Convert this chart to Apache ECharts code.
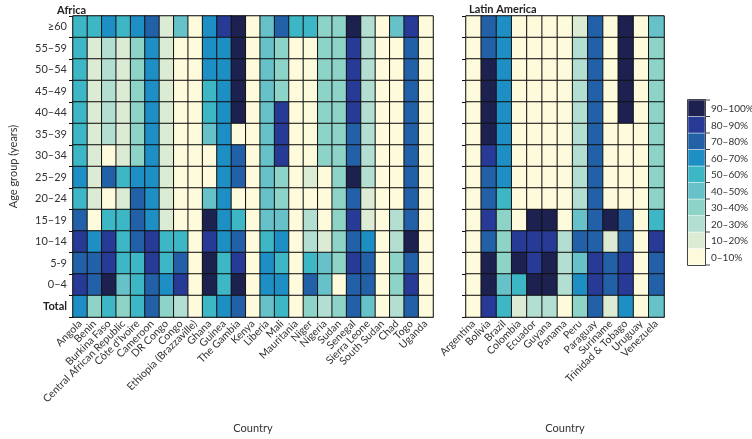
<!DOCTYPE html>
<html>
<head>
<meta charset="utf-8">
<script src="https://cdn.jsdelivr.net/npm/echarts@6/dist/echarts.min.js"></script>
<style>html,body{margin:0;padding:0;background:#fff;}#c{width:752px;height:439px;}</style>
</head>
<body>
<div id="c"></div>
<script>
// ---- data ----
const ageGroups = ['≥60','55–59','50–54','45–49','40–44','35–39','30–34','25–29','20–24','15–19','10–14','5-9','0–4','Total'];
const africaCountries = ['Angola','Benin','Burkina Faso','Central African Republic',"Côte d'Ivoire",'Cameroon','DR Congo','Congo','Ethiopia (Brazzaville)','Ghana','Guinea','The Gambia','Kenya','Liberia','Mali','Mauritania','Niger','Nigeria','Sudan','Senegal','Sierra Leone','South Sudan','Chad','Togo','Uganda'];
const latinCountries = ['Argentina','Bolivia','Brazil','Colombia','Ecuador','Guyana','Panama','Peru','Paraguay','Suriname','Trinidad & Tobago','Uruguay','Venezuela'];
// percentage (bin midpoints) per age group row, in country order
const africaValues = [
  [55,55,65,55,65,75,15,45,5,65,85,95,5,45,75,55,55,35,35,95,25,5,45,85,5],
  [55,15,25,15,35,65,15,5,5,65,65,95,5,45,35,5,5,35,35,85,25,5,5,75,5],
  [55,15,25,15,35,65,15,5,5,65,65,95,5,45,35,5,5,35,35,85,25,5,5,75,5],
  [55,15,25,15,35,65,15,5,5,55,65,95,5,45,35,5,5,35,35,85,25,5,5,75,5],
  [55,15,25,15,35,65,15,5,5,55,65,95,5,45,85,5,5,35,35,85,25,5,5,75,5],
  [55,15,25,15,35,65,15,5,5,45,65,5,5,45,85,5,5,35,35,75,25,5,5,75,5],
  [55,15,5,15,35,65,15,5,5,5,65,75,5,45,85,5,5,35,35,75,25,5,5,75,5],
  [65,15,75,55,65,65,15,5,5,5,65,75,5,45,35,5,15,5,35,95,25,5,5,75,5],
  [55,15,5,15,75,65,15,5,5,45,65,5,5,45,35,5,5,5,35,75,15,5,5,75,5],
  [75,5,55,55,75,65,15,5,5,95,65,55,5,45,45,5,25,5,35,85,15,5,25,75,5],
  [85,65,85,55,75,85,55,55,5,85,65,75,5,55,65,5,25,15,35,75,65,5,25,95,5],
  [75,75,85,55,55,85,55,75,5,95,55,85,5,65,55,5,55,45,35,85,75,5,35,75,5],
  [85,75,95,45,55,75,65,85,5,95,55,95,5,65,65,5,75,45,5,75,75,5,35,85,5],
  [65,35,55,35,55,75,35,25,5,55,65,75,5,45,55,5,35,25,35,75,45,5,25,75,5]
];
const latinValues = [
  [5,75,65,5,5,5,5,15,75,5,95,5,45],
  [5,75,65,5,5,5,5,25,75,5,95,5,35],
  [5,95,65,5,5,5,5,25,75,5,95,5,35],
  [5,95,65,5,5,5,5,25,75,5,95,5,35],
  [5,95,65,5,5,5,5,25,75,5,95,5,35],
  [5,95,65,5,5,5,5,25,75,5,5,5,35],
  [5,85,65,5,5,5,5,25,75,5,5,5,35],
  [5,75,65,5,5,5,5,25,75,5,5,5,35],
  [5,75,55,5,5,5,5,25,75,5,5,5,35],
  [5,85,35,5,95,95,5,45,75,95,75,5,55],
  [5,75,35,85,85,85,25,75,75,15,75,5,85],
  [5,95,35,95,85,95,25,45,85,75,85,5,75],
  [5,95,45,55,95,95,25,65,85,75,85,5,75],
  [5,85,55,15,25,25,5,35,75,15,65,5,45]
];
const binLabels = ['0–10%','10–20%','20–30%','30–40%','40–50%','50–60%','60–70%','70–80%','80–90%','90–100%'];
const binColors = ['#fefbdc','#dcebd4','#b3dfd2','#8dd3c8','#66c2c8','#3db6c5','#1e8fc4','#2260a8','#263a96','#1d2150'];

// ---- build ----
function toCells(rows){
  const out=[];
  rows.forEach((row,r)=>row.forEach((v,c)=>out.push([c,r,v])));
  return out;
}
const FONT = "Lato, 'Open Sans', sans-serif";
const txt = {fontFamily: FONT, fontSize: 11, color: '#333'};
const pieces = binLabels.map((l,i)=>({gte:i*10, lt:(i+1)*10, label:l, color:binColors[i]}));

function xAx(gi, data){
  return {
    type:'category', gridIndex:gi, data:data, position:'bottom',
    name:'Country', nameLocation:'middle', nameGap:106,
    nameTextStyle:{fontFamily:FONT,fontSize:11,color:'#333'},
    axisLine:{show:true,lineStyle:{color:'#888',width:2}},
    axisTick:{show:false},
    splitLine:{show:false},
    axisLabel:{interval:0, rotate:45, margin:5, fontFamily:FONT, fontSize:10.5, color:'#333'}
  };
}
function yAx(gi, showLabels){
  return {
    type:'category', gridIndex:gi, data:ageGroups, inverse:true,
    name: showLabels ? 'Age group (years)' : '',
    nameLocation:'middle', nameGap:54, nameRotate:90,
    nameTextStyle:{fontFamily:FONT,fontSize:11,color:'#333'},
    axisLine:{show:false},
    axisTick:{show:true,length:4,lineStyle:{color:'#111'}},
    splitLine:{show:false},
    axisLabel:Object.assign({show:showLabels, margin:6,
      formatter:(v)=> v==='Total' ? '{b|Total}' : v,
      rich:{b:{fontFamily:FONT,fontSize:11,fontWeight:'bold',color:'#222'}}
    }, txt)
  };
}

// legend built from the bin arrays (top = highest bin)
const LG = {x:688, y:100, w:17, h:16.5};
const legendEls = [];
binColors.forEach((col,i)=>{
  const k = binColors.length-1-i;
  legendEls.push({type:'rect', shape:{x:LG.x, y:LG.y+k*LG.h, width:LG.w, height:LG.h},
    style:{fill:col, stroke:'rgba(255,255,255,0.7)', lineWidth:0.6}, silent:true});
  legendEls.push({type:'line', shape:{x1:LG.x+LG.w, y1:LG.y+k*LG.h, x2:LG.x+LG.w+5, y2:LG.y+k*LG.h},
    style:{stroke:'#444', lineWidth:1}, silent:true});
  legendEls.push({type:'text', x:LG.x+LG.w+6, y:LG.y+k*LG.h+LG.h/2+1,
    style:{text:binLabels[i], fill:'#333', font:"10px "+FONT, verticalAlign:'middle', align:'left'}, silent:true});
});
legendEls.push({type:'rect', shape:{x:LG.x-0.5, y:LG.y-0.5, width:LG.w+1, height:LG.h*10+1},
  style:{fill:'none', stroke:'#444', lineWidth:1}, silent:true});
legendEls.push({type:'line', shape:{x1:LG.x+LG.w, y1:LG.y+LG.h*10, x2:LG.x+LG.w+5, y2:LG.y+LG.h*10},
  style:{stroke:'#444', lineWidth:1}, silent:true});

const chart = echarts.init(document.getElementById('c'), null, {renderer:'canvas'});
chart.setOption({
  animation:false,
  backgroundColor:'#fff',
  title:[
    {text:'Africa', left:52, top:0, textStyle:{fontFamily:FONT,fontSize:11,fontWeight:'bold',color:'#222'}},
    {text:'Latin America', left:464, top:-1, textStyle:{fontFamily:FONT,fontSize:11,fontWeight:'bold',color:'#222'}}
  ],
  grid:[
    {left:53, top:16, width:380, height:320, show:true, borderColor:'#888', borderWidth:1},
    {left:466, top:16, width:198, height:320, show:true, borderColor:'#888', borderWidth:1}
  ],
  xAxis:[xAx(0, africaCountries), xAx(1, latinCountries)],
  yAxis:[yAx(0,true), yAx(1,false)],
  visualMap:{
    type:'piecewise', seriesIndex:[0,1], pieces:pieces, show:false
  },
  graphic:[{type:'group', children:legendEls}],
  series:[
    {type:'heatmap', xAxisIndex:0, yAxisIndex:0, data:toCells(africaValues),
     itemStyle:{borderColor:'#111', borderWidth:1}, emphasis:{disabled:true}},
    {type:'heatmap', xAxisIndex:1, yAxisIndex:1, data:toCells(latinValues),
     itemStyle:{borderColor:'#111', borderWidth:1}, emphasis:{disabled:true}}
  ]
});
</script>
</body>
</html>
